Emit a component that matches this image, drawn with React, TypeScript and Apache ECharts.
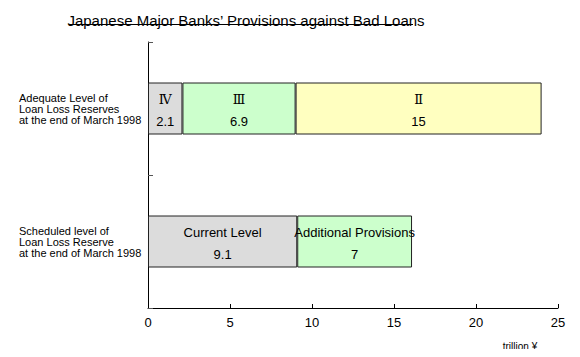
import React, { useEffect, useRef } from "react";
import * as echarts from "echarts";

const categories = [
  "Adequate Level of\nLoan Loss Reserves\nat the end of March 1998",
  "Scheduled level of\nLoan Loss Reserve\nat the end of March 1998",
];
const seg1Values = [2.1, 9.1];
const seg1Names = ["Ⅳ", "Current Level"];
const seg2Values = [6.9, 7];
const seg2Names = ["Ⅲ", "Additional Provisions"];
const seg3Values: (number | null)[] = [15, null];
const seg3Names = ["Ⅱ", ""];
const xTicks = [0, 5, 10, 15, 20, 25];

const FONT = "Liberation Sans, Arial, sans-serif";
const ROMAN = /^[ⅠⅡⅢⅣⅤ]$/;

export default function App() {
  const ref = useRef<HTMLDivElement>(null);
  useEffect(() => {
    if (!ref.current) return;
    const chart = echarts.init(ref.current, undefined, { renderer: "svg" });
    const mkSeries = (vals: (number | null)[], names: string[], color: string) => ({
      type: "bar",
      stack: "total",
      data: vals,
      barWidth: 52,
      itemStyle: { color, borderColor: "#222", borderWidth: 1 },
      label: {
        show: true,
        position: "inside",
        color: "#000",
        fontFamily: FONT,
        fontSize: 13,
        lineHeight: 22,
        overflow: "none",
        padding: [4, 0, 0, 0],
        rich: {
          r: { fontFamily: "DejaVu Serif, serif", fontSize: 13, lineHeight: 22, color: "#000" },
          t: { fontFamily: FONT, fontSize: 13, lineHeight: 22, color: "#000" },
        },
        formatter: (p: any) => {
          const n = names[p.dataIndex];
          const first = ROMAN.test(n) ? `{r|${n}}` : `{t|${n}}`;
          return `${first}\n{t|${p.value}}`;
        },
      },
    });
    chart.setOption({
      animation: false,
      backgroundColor: "#fff",
      title: {
        text: "Japanese Major Banks\u2019 Provisions against Bad Loans",
        left: 241,
        top: 8,
        textAlign: "center",
        textStyle: { fontFamily: FONT, fontSize: 15, fontWeight: "normal", color: "#000" },
      },
      graphic: [
        { type: "line", shape: { x1: 69, y1: 24.5, x2: 413, y2: 24.5 }, style: { stroke: "#000", lineWidth: 1 } },
        {
          type: "text",
          x: 520,
          y: 346,
          style: { text: "trillion ¥", fontFamily: FONT, fontSize: 10, fill: "#000", align: "center", verticalAlign: "middle" },
        },
      ],
      grid: { left: 148, right: 22, top: 42, bottom: 49 },
      xAxis: {
        type: "value",
        min: 0,
        max: 25,
        interval: 5,
        splitLine: { show: false },
        axisLine: { show: true, lineStyle: { color: "#000" } },
        axisTick: { show: true, inside: true, length: 4, lineStyle: { color: "#000" } },
        axisLabel: {
          color: "#000",
          fontFamily: FONT,
          fontSize: 13,
          margin: 8,
          formatter: (v: number) => (xTicks.includes(v) ? String(v) : ""),
        },
      },
      yAxis: {
        type: "category",
        inverse: true,
        data: categories,
        axisLine: { show: true, lineStyle: { color: "#000" } },
        axisTick: { show: true, inside: true, length: 5, lineStyle: { color: "#555" } },
        axisLabel: {
          color: "#000",
          fontFamily: FONT,
          fontSize: 11,
          lineHeight: 11,
          align: "left",
          margin: 129,
          padding: [0, 0, 12, 0],
        },
      },
      series: [
        mkSeries(seg1Values, seg1Names, "#dcdcdc"),
        mkSeries(seg2Values, seg2Names, "#ccffcc"),
        mkSeries(seg3Values, seg3Names, "#ffffc0"),
      ],
    });
    return () => chart.dispose();
  }, []);
  return <div ref={ref} style={{ width: 580, height: 357, margin: -8 }} />;
}
